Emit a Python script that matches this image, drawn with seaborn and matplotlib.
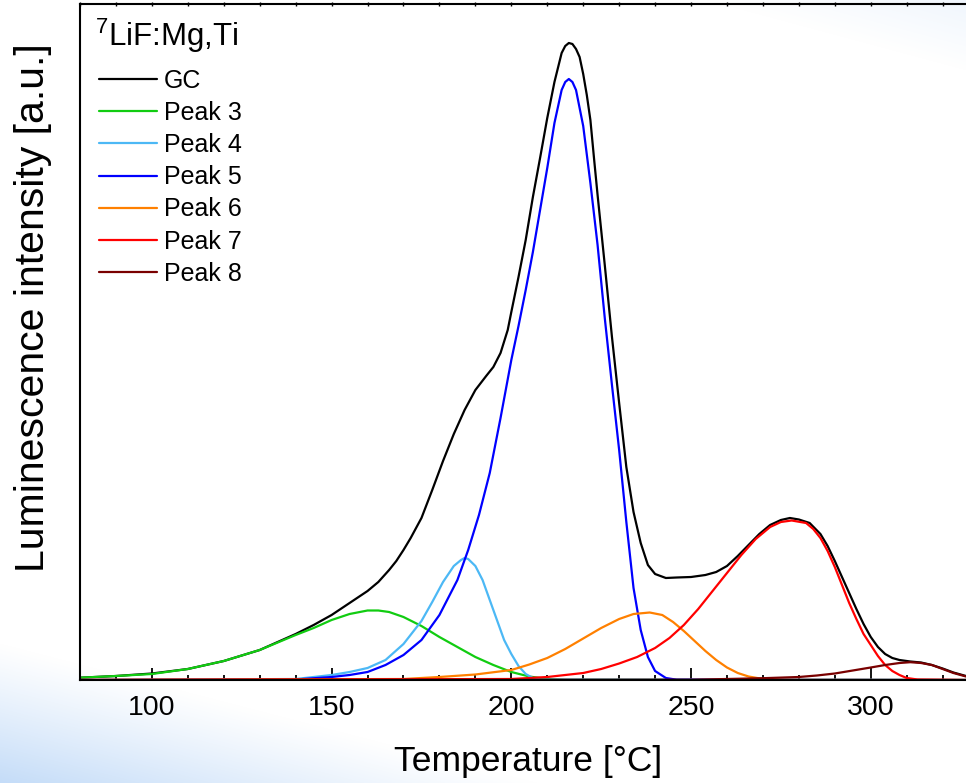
import numpy as np
import pandas as pd
import matplotlib
matplotlib.use("Agg")
import matplotlib.pyplot as plt
import seaborn as sns

# Glow-curve components of 7LiF:Mg,Ti (temperature in °C, intensity in a.u.)
gc_T = [80, 90, 100, 110, 120, 130, 140, 145, 150, 155, 160, 163, 166, 168, 170, 172, 175, 178,
        181, 184, 187, 190, 193, 195, 197, 199, 200, 202, 204, 206, 208, 210, 212, 214, 215, 216,
        217, 218, 219, 220, 221, 222, 223, 224, 225, 226, 228, 230, 232, 234, 236, 238, 240, 243,
        246, 250, 254, 257, 260, 263, 266, 269, 272, 275, 277.5, 280, 283, 286, 288, 290, 292, 294,
        296, 298, 300, 302, 304, 306, 308, 311, 314, 317, 320, 323, 326.5]
gc_I = [2.3, 4, 6.5, 11, 19, 30, 46, 55, 65, 77, 89, 98, 110, 119, 130, 142, 162, 190,
        219, 246, 270, 290, 304, 313, 327, 350, 368, 403, 440, 483, 522, 562, 598, 627, 634, 637,
        636, 631, 623, 606, 585, 560, 522, 485, 450, 415, 343, 277, 213, 168, 137, 115, 106, 102,
        102.5, 103, 105, 108, 114, 124, 135, 146, 155, 160, 162, 160.5, 157, 146, 134, 119, 103, 87,
        71, 56, 43, 33, 26, 22, 20, 18.5, 17.5, 15, 11.5, 7.5, 4]

p3_T = [80, 90, 100, 110, 120, 130, 140, 145, 150, 155, 160, 163, 166, 170, 175, 180, 185, 190,
        195, 200, 205, 210, 215, 326.5]
p3_I = [2.3, 4, 6, 11, 19, 30, 45, 52, 60, 66, 69.5, 69.5, 68, 63, 54, 43, 33, 23,
        15, 8, 3.5, 1, 0.2, 0]

p4_T = [80, 140, 150, 155, 160, 165, 170, 175, 178, 181, 184, 186, 187, 188, 190, 192, 194, 196,
        198, 200, 202, 204, 206, 208, 326.5]
p4_I = [0, 1, 5, 8, 12, 20, 36, 59, 78, 98, 114, 120, 122, 121, 114, 100, 80, 60,
        40, 26, 14, 6, 2, 0.5, 0]

p5_T = [80, 140, 150, 155, 160, 165, 170, 175, 180, 185, 188, 191, 194, 197, 200, 202, 204, 206,
        208, 210, 212, 214, 215, 216, 217, 218, 220, 222, 224, 226, 228, 230, 232, 234, 236, 238,
        240, 243, 246, 326.5]
p5_I = [0, 0.5, 3, 5, 8, 15, 25, 40, 65, 100, 130, 165, 207, 262, 320, 354, 390, 428,
        470, 512, 557, 590, 598, 601, 598, 590, 554, 497, 435, 362, 295, 230, 158, 92, 50, 23,
        9, 2, 0.3, 0]

p6_T = [80, 170, 180, 190, 200, 205, 210, 215, 220, 225, 230, 234, 238.5, 242, 245, 248, 251, 254,
        257, 260, 263, 266, 270, 275, 326.5]
p6_I = [0, 1, 3, 5.5, 10, 15.5, 22, 31, 41.5, 52, 61, 66, 67.5, 65, 58, 49, 39, 29,
        20, 12.5, 7, 3.5, 1, 0.2, 0]

p7_T = [80, 200, 210, 215, 220, 225, 230, 235, 240, 244, 248, 252, 256, 260, 264, 268, 272,
        275, 278, 282, 284, 286, 288, 290, 292, 294, 296, 298, 300, 302, 304, 306, 308, 310, 313,
        326.5]
p7_I = [0, 1, 3, 5, 7, 11, 16.5, 23, 32, 42, 55, 71, 89, 107, 125, 141, 153,
        158, 159.5, 157, 151, 142, 129, 113, 95, 77, 61, 46, 35, 24, 15, 9, 5, 2, 0.5,
        0]

p8_T = [80, 250, 260, 270, 280, 285, 290, 295, 300, 304, 308, 311, 314, 317, 320, 323, 326.5]
p8_I = [0, 0.3, 1, 1.8, 3, 4.5, 6.5, 9.5, 12.5, 15, 17, 17.8, 17, 15, 11, 7, 3.5]

curve_names = ["GC", "Peak 3", "Peak 4", "Peak 5", "Peak 6", "Peak 7", "Peak 8"]
curve_T = [gc_T, p3_T, p4_T, p5_T, p6_T, p7_T, p8_T]
curve_I = [gc_I, p3_I, p4_I, p5_I, p6_I, p7_I, p8_I]
curve_colors = ["#000000", "#11cc11", "#4cb8f5", "#0000ff", "#ff8000", "#ff0000", "#7a0000"]

frames = [pd.DataFrame({"T": t, "I": i, "curve": n})
          for n, t, i in zip(curve_names, curve_T, curve_I)]
df = pd.concat(frames, ignore_index=True)

W, H, DPI = 966, 783, 100
sns.set_theme(style="white")
plt.rcParams["font.family"] = ["Liberation Sans", "DejaVu Sans"]
plt.rcParams["mathtext.fontset"] = "custom"
plt.rcParams["mathtext.rm"] = "Liberation Sans"
plt.rcParams["text.color"] = "black"
plt.rcParams["xtick.color"] = "black"
plt.rcParams["xtick.labelcolor"] = "black"

fig = plt.figure(figsize=(W / DPI, H / DPI), dpi=DPI)
fig.patch.set_facecolor("white")

# soft slide-style backdrop: blue wash in the lower-left corner, faint one top-right
bg = fig.add_axes([0, 0, 1, 1], zorder=-10)
yy, xx = np.mgrid[0:H, 0:W]
s1 = np.clip(1 - ((H - yy) / 140.0 + xx / 540.0), 0, 1) ** 1.1
s2 = 0.25 * np.clip(1 - (yy / 70.0 + (W - xx) / 260.0), 0, 1)
a = np.clip(s1 + s2, 0, 1)[..., None]
blue = np.array([196, 220, 248]) / 255.0
img = (1 - a) * 1.0 + a * blue
bg.imshow(img, extent=[0, W, H, 0], aspect="auto")
bg.axis("off")

x0, x1 = 80, 966
y_top, y_bot = 4, 680
ax = fig.add_axes([x0 / W, (H - y_bot) / H, (x1 - x0) / W, (y_bot - y_top) / H])
ax.set_facecolor("none")

sns.lineplot(data=df, x="T", y="I", hue="curve", hue_order=curve_names,
             palette=curve_colors, estimator=None, linewidth=1.6, ax=ax, legend=True)

ax.set_xlim(80, 326.5)
ax.set_ylim(0, 676)
ax.set_xlabel("")
ax.set_ylabel("")
ax.set_yticks([])
ax.set_xticks([100, 150, 200, 250, 300])
ax.set_xticks(np.arange(80, 330, 10), minor=True)
ax.tick_params(axis="x", which="major", direction="in", length=8.5, width=1.3,
               color="black", labelcolor="black", labelsize=20.5, pad=11,
               top=False, bottom=True)
ax.tick_params(axis="x", which="minor", direction="in", length=3.5, width=1.3,
               color="black", top=False, bottom=True)
for sp in ["left", "top", "bottom"]:
    ax.spines[sp].set_visible(True)
    ax.spines[sp].set_color("black")
    ax.spines[sp].set_linewidth(1.5)
ax.spines["right"].set_visible(False)

top = ax.secondary_xaxis("top")
top.set_xticks(np.arange(80, 330, 10))
top.tick_params(direction="inout", length=3, width=1, labeltop=False)
top.spines["top"].set_visible(False)

handles, labels = ax.get_legend_handles_labels()
for h in handles:
    h.set_linewidth(1.6)
leg = ax.legend(handles, labels, loc="upper left",
                bbox_to_anchor=(99 / W, (H - 68.5) / H), bbox_transform=fig.transFigure,
                frameon=False, fontsize=18, handlelength=2.3,
                handletextpad=0.3, labelspacing=0.33, borderpad=0, borderaxespad=0)
for t in leg.get_texts():
    t.set_color("black")

# sample label above the legend entries
fig.text(95 / W, 1 - 46 / H, r"$\mathregular{^7}$LiF:Mg,Ti", ha="left", va="baseline",
         fontsize=22.5)

fig.text(528 / W, 1 - 762 / H, "Temperature [°C]", ha="center", va="center", fontsize=25.5)
fig.text(33 / W, 1 - 308 / H, "Luminescence intensity [a.u.]", ha="center", va="center",
         rotation=90, fontsize=29.5)

fig.savefig("out.png", dpi=DPI)
